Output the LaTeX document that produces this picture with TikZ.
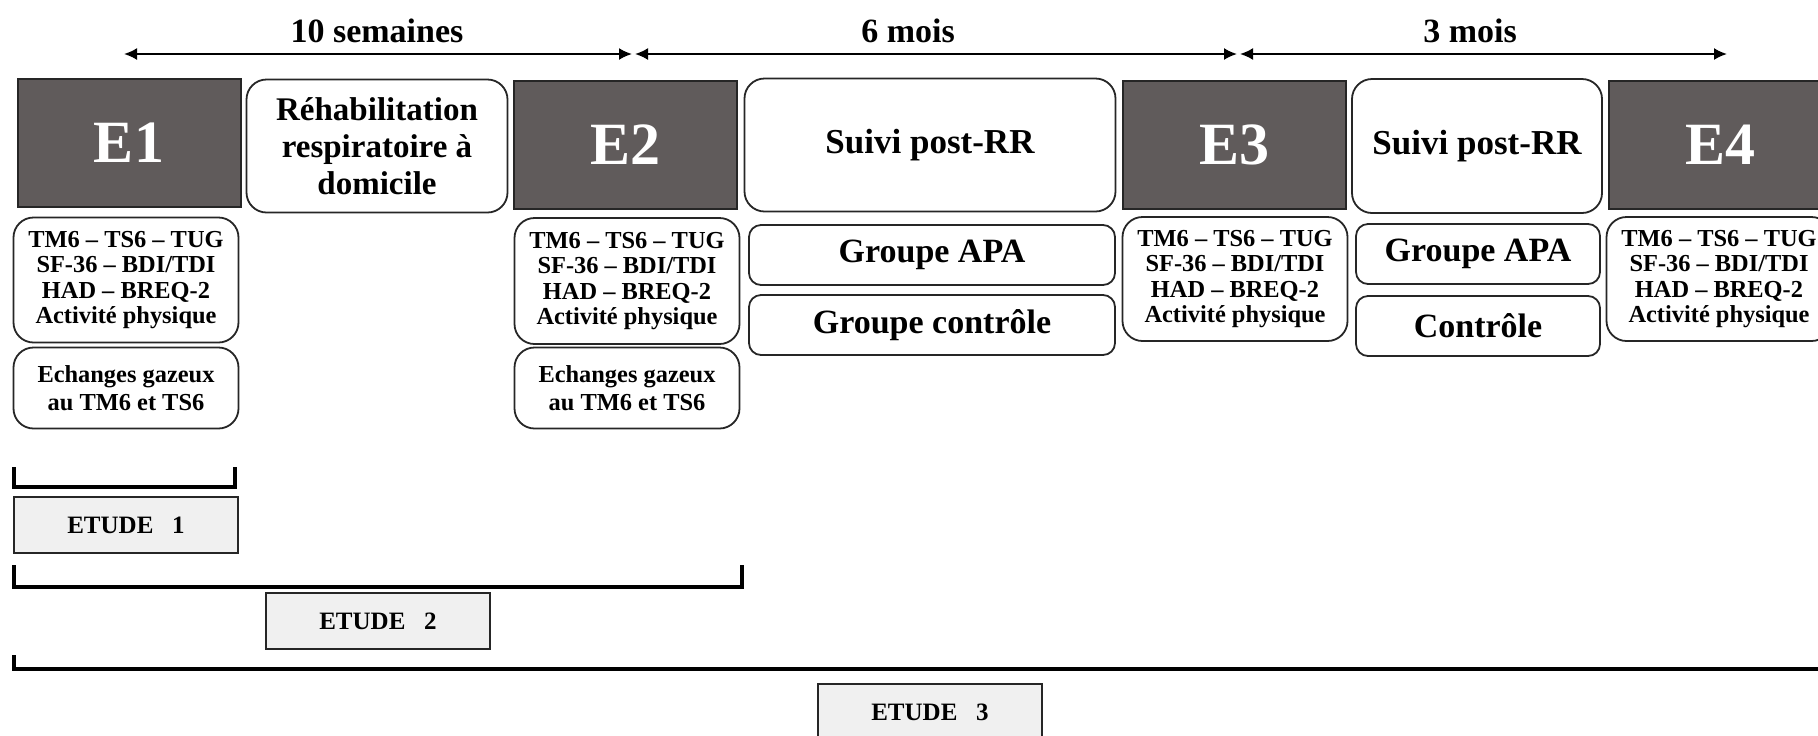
\documentclass[tikz,border=0pt]{standalone}
\usepackage{fontspec}
\setmainfont{Liberation Serif}
\usetikzlibrary{arrows.meta}
\definecolor{visitgray}{RGB}{96,91,91}
\definecolor{etudegray}{RGB}{240,240,240}

\begin{document}
\begin{tikzpicture} [x=0.5pt, y=-0.5pt, align=center,
    visite/.style={draw=black!85, fill=visitgray, line width=1pt, text=white, inner sep=0pt,
      minimum width=111.5pt, minimum height=64pt, font=\fontsize{30}{30}\selectfont\bfseries},
    phase/.style={draw=black!85, rounded corners=10pt, line width=0.9pt, inner sep=0pt,
      font=\fontsize{16.5}{18.5}\selectfont\bfseries},
    mesure/.style={draw=black!85, rounded corners=10pt, line width=0.9pt, inner sep=0pt,
      minimum width=112.5pt, font=\fontsize{12.2}{12.8}\selectfont\bfseries},
    groupe/.style={draw=black!85, rounded corners=6pt, line width=0.9pt, inner sep=0pt,
      minimum height=30pt, font=\fontsize{17}{17}\selectfont\bfseries},
    etude/.style={draw=black!85, fill=etudegray, line width=0.9pt, inner sep=0pt,
      minimum width=112pt, minimum height=28pt, font=\fontsize{12.5}{12.5}\selectfont\bfseries},
    duree/.style={{Latex[length=6.5pt,width=6pt]}-{Latex[length=6.5pt,width=6pt]}, line width=1pt},
    accolade/.style={line width=1.6pt}]
  \useasboundingbox (0,0) rectangle (1818,735);
  \path  (129,143)  node[visite] (E1) {E1}
         (377,146)  node[phase, minimum width=130.5pt, minimum height=66.5pt] (RR) {Réhabilitation\\respiratoire à\\domicile}
         (625,145)  node[visite] (E2) {E2}
         (930,145)  node[phase, minimum width=185.5pt, minimum height=66.5pt, font=\fontsize{17.5}{17.5}\selectfont\bfseries] (S1) {Suivi post-RR}
         (1234,145) node[visite] (E3) {E3}
         (1477,146) node[phase, minimum width=125pt, minimum height=67pt, font=\fontsize{17.5}{17.5}\selectfont\bfseries] (S2) {Suivi post-RR}
         (1720,145) node[visite] (E4) {E4};
  \path  (126,280)  node[mesure, minimum height=62.5pt] (M1) {TM6 – TS6 – TUG\\SF-36 – BDI/TDI\\HAD – BREQ-2\\Activité physique}
         (126,388)  node[mesure, minimum height=40.5pt, font=\fontsize{12.2}{14}\selectfont\bfseries] (G1) {Echanges gazeux\\au TM6 et TS6}
         (627,281)  node[mesure, minimum height=63pt] (M2) {TM6 – TS6 – TUG\\SF-36 – BDI/TDI\\HAD – BREQ-2\\Activité physique}
         (627,388)  node[mesure, minimum height=40.5pt, font=\fontsize{12.2}{14}\selectfont\bfseries] (G2) {Echanges gazeux\\au TM6 et TS6}
         (1235,279) node[mesure, minimum height=62pt] (M3) {TM6 – TS6 – TUG\\SF-36 – BDI/TDI\\HAD – BREQ-2\\Activité physique}
         (1719,279) node[mesure, minimum height=62pt] (M4) {TM6 – TS6 – TUG\\SF-36 – BDI/TDI\\HAD – BREQ-2\\Activité physique};
  \path  (932,255)  node[groupe, minimum width=183pt] (APA1) {Groupe APA}
         (932,325)  node[groupe, minimum width=183pt] (C1) {Groupe contrôle}
         (1478,254) node[groupe, minimum width=122pt] (APA2) {Groupe APA}
         (1478,326) node[groupe, minimum width=122pt] (C2) {Contrôle};
  \path  (126,525)  node[etude] (ET1) {ETUDE~~~1}
         (378,621)  node[etude] (ET2) {ETUDE~~~2}
         (930,712)  node[etude] (ET3) {ETUDE~~~3};
  \path  (377,31)   node[font=\fontsize{17}{17}\selectfont\bfseries] (D1) {10 semaines}
         (908,31)   node[font=\fontsize{17}{17}\selectfont\bfseries] (D2) {6 mois}
         (1470,31)  node[font=\fontsize{17}{17}\selectfont\bfseries] (D3) {3 mois};
  \coordinate (T0) at (124,54);
  \coordinate (T1) at (632,54);
  \coordinate (T1b) at (635,54);
  \coordinate (T2) at (1237,54);
  \coordinate (T2b) at (1240,54);
  \coordinate (T3) at (1727,54);
  \draw [duree] (T0) -- (T1);
  \draw [duree] (T1b) -- (T2);
  \draw [duree] (T2b) -- (T3);
  \draw [accolade] (14,467) |- (235,487) -- (235,467);
  \draw [accolade] (14,565) |- (742,587) -- (742,565);
  \draw [accolade] (14,655) |- (1830,669);
\end{tikzpicture}
\end{document}
